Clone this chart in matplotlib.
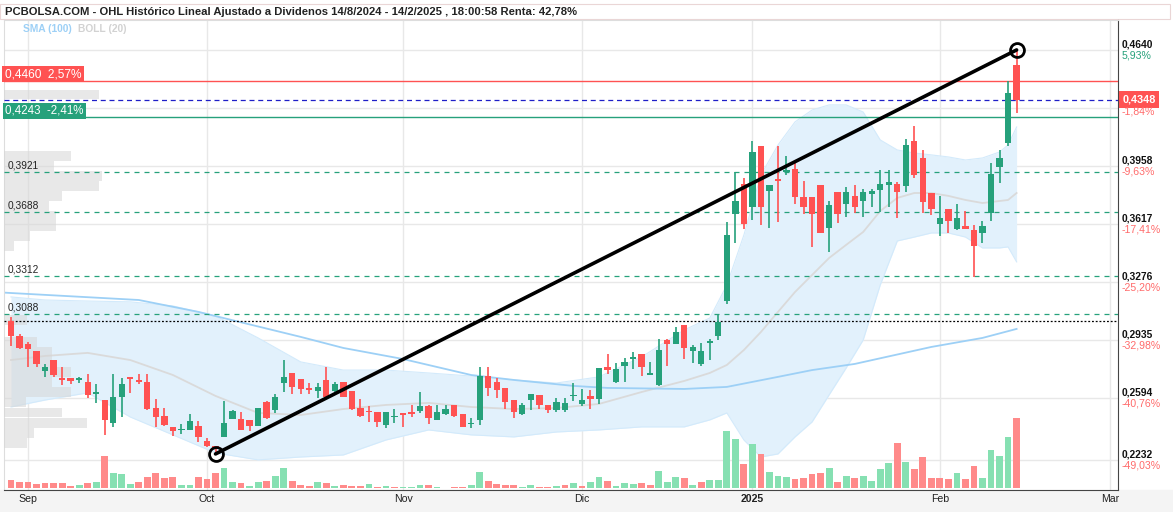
import numpy as np
import matplotlib.pyplot as plt
import matplotlib.transforms as mtransforms

plt.rcParams['font.family'] = ['Liberation Sans', 'DejaVu Sans']

# sesiones bursatiles: 0 = 2/9/2024 ... 116 = 14/2/2025
sesion = np.arange(-2, 117)

apertura = [
    .3047, .2958, .2913, .2870, .2754, .2817, .2705, .2709, .2701, .2688,
    .2620, .2582, .2449, .2600, .2717, .2694, .2688, .2535, .2488, .2423,
    .2404, .2406, .2429, .2339, .2312, .2364, .2468, .2470, .2464, .2429,
    .2570, .2523, .2684, .2743, .2705, .2652, .2637, .2700, .2637, .2686,
    .2635, .2535, .2513, .2511, .2433, .2480, .2504, .2511, .2519, .2547,
    .2464, .2502, .2553, .2500, .2440, .2464, .2723, .2688, .2651, .2582,
    .2500, .2582, .2611, .2551, .2523, .2523, .2604, .2560, .2605, .2588,
    .2774, .2688, .2782, .2823, .2852, .2731, .2670, .2933, .2913, .3023,
    .2872, .2794, .2915, .2958, .3164, .3676, .3852, .3719, .4076, .3813,
    .3876, .3921, .3940, .3774, .3776, .3846, .3595, .3807, .3735, .3782,
    .3752, .3795, .3817, .3848, .3852, .3842, .4105, .4005, .3797, .3619,
    .3705, .3587, .3605, .3582, .3566, .3683, .3954, .4095, .4552]
maximo = [
    .3068, .2970, .2921, .2870, .2794, .2817, .2774, .2713, .2719, .2735,
    .2676, .2582, .2735, .2709, .2719, .2733, .2737, .2586, .2537, .2425,
    .2439, .2500, .2458, .2361, .2314, .2576, .2525, .2510, .2464, .2535,
    .2576, .2617, .2817, .2743, .2705, .2684, .2684, .2778, .2688, .2686,
    .2635, .2586, .2545, .2513, .2513, .2529, .2507, .2551, .2627, .2553,
    .2553, .2551, .2553, .2500, .2474, .2778, .2776, .2709, .2651, .2582,
    .2563, .2617, .2611, .2553, .2594, .2592, .2680, .2645, .2641, .2770,
    .2852, .2798, .2827, .2864, .2852, .2804, .2939, .2939, .3010, .3023,
    .2905, .2915, .2939, .3082, .3630, .3924, .3886, .4107, .4076, .3846,
    .4076, .4017, .3983, .3870, .3776, .3846, .3752, .3807, .3833, .3846,
    .3823, .3823, .3934, .3934, .3866, .4117, .4193, .4052, .3797, .3782,
    .3705, .3733, .3693, .3611, .3635, .3974, .4052, .4460, .4640]
minimo = [
    .2901, .2880, .2774, .2774, .2719, .2719, .2672, .2678, .2683, .2594,
    .2563, .2378, .2422, .2480, .2621, .2676, .2525, .2422, .2427, .2370,
    .2380, .2406, .2333, .2308, .2265, .2364, .2468, .2406, .2402, .2429,
    .2472, .2508, .2631, .2616, .2617, .2617, .2596, .2602, .2627, .2598,
    .2525, .2480, .2454, .2425, .2420, .2445, .2422, .2484, .2508, .2439,
    .2464, .2496, .2484, .2422, .2419, .2437, .2608, .2592, .2529, .2479,
    .2494, .2523, .2531, .2508, .2510, .2511, .2578, .2549, .2531, .2558,
    .2735, .2684, .2690, .2764, .2723, .2731, .2664, .2782, .2913, .2822,
    .2802, .2784, .2817, .2935, .3145, .3503, .3590, .3641, .3611, .3592,
    .3627, .3905, .3733, .3676, .3484, .3562, .3454, .3625, .3656, .3680,
    .3660, .3719, .3686, .3719, .3650, .3807, .3889, .3680, .3670, .3548,
    .3562, .3582, .3589, .3307, .3507, .3636, .3856, .4077, .4268]
cierre = [
    .2960, .2890, .2882, .2795, .2776, .2731, .2701, .2695, .2705, .2611,
    .2622, .2466, .2600, .2676, .2705, .2690, .2529, .2484, .2437, .2402,
    .2406, .2458, .2366, .2314, .2292, .2447, .2517, .2406, .2429, .2535,
    .2476, .2600, .2717, .2658, .2648, .2642, .2660, .2602, .2676, .2602,
    .2529, .2490, .2510, .2451, .2511, .2482, .2496, .2498, .2545, .2478,
    .2511, .2529, .2488, .2425, .2442, .2723, .2655, .2641, .2572, .2513,
    .2551, .2617, .2553, .2523, .2570, .2564, .2608, .2582, .2590, .2770,
    .2758, .2764, .2806, .2833, .2778, .2741, .2876, .2913, .2982, .2890,
    .2892, .2870, .2929, .3043, .3552, .3752, .3617, .4040, .3719, .3846,
    .3872, .3934, .3777, .3719, .3676, .3562, .3729, .3674, .3807, .3719,
    .3805, .3811, .3852, .3864, .3807, .4081, .3907, .3748, .3704, .3650,
    .3636, .3650, .3589, .3489, .3605, .3911, .4007, .4389, .4348]
volumen = [
    8.3, 6.0, 6.0, 4.3, 5.0, 5.0, 5.0, 2.3, 3.3, 5.3,
    6.3, 32.3, 15.0, 14.3, 4.3, 6.3, 11.3, 15.0, 10.3, 11.5,
    3.3, 3.3, 11.3, 9.3, 15.0, 20.3, 6.3, 5.0, 2.3, 6.0,
    7.3, 12.3, 20.3, 7.0, 3.3, 2.3, 6.0, 5.0, 2.6, 3.0,
    2.0, 2.7, 4.7, 1.7, 2.7, 1.7, 1.7, 1.7, 3.3, 3.7,
    1.7, 0.5, 1.7, 1.7, 3.3, 16.3, 7.7, 4.3, 3.0, 3.5,
    1.3, 3.0, 1.3, 1.3, 2.3, 3.0, 5.3, 2.3, 6.3, 11.0,
    7.3, 2.3, 5.3, 4.7, 5.3, 3.3, 17.0, 6.3, 11.0, 10.0,
    3.0, 6.7, 8.3, 8.3, 57.0, 49.3, 24.3, 44.3, 34.3, 16.3,
    12.3, 11.3, 9.0, 10.3, 14.3, 15.3, 20.3, 6.7, 12.3, 10.3,
    12.7, 7.3, 19.3, 25.3, 45.3, 26.3, 19.3, 31.3, 10.3, 10.3,
    9.0, 15.3, 9.0, 22.3, 10.3, 38.3, 32.3, 51.3, 70.3]

# Bollinger (20) y SMA (100)
boll_ses = [-2, 2, 7, 12, 17, 22, 27, 32, 37, 42, 47, 52, 57, 62, 67, 72, 77, 80,
            82, 84, 86, 88, 90, 92, 94, 96, 98, 100, 102, 104, 106, 108, 110, 112,
            114, 115, 116]
boll_sup = [.3188, .3170, .3164, .3159, .3135, .3076, .2947, .2806, .2758, .2758,
            .2741, .2723, .2700, .2682, .2718, .2835, .2994, .3064, .3258, .3552,
            .3905, .4081, .4217, .4287, .4317, .4317, .4275, .4111, .4052, .4034,
            .4023, .4011, .3993, .4005, .4040, .4081, .4187]
boll_med = [.2817, .2841, .2859, .2817, .2729, .2606, .2506, .2494, .2529, .2553,
            .2565, .2541, .2529, .2535, .2559, .2629, .2694, .2741, .2788, .2876,
            .2982, .3100, .3217, .3317, .3417, .3494, .3570, .3693, .3770, .3799,
            .3799, .3782, .3758, .3740, .3752, .3758, .3799]
boll_inf = [.2541, .2582, .2624, .2482, .2377, .2271, .2230, .2247, .2259, .2347,
            .2406, .2377, .2365, .2394, .2406, .2424, .2424, .2465, .2506, .2347,
            .2247, .2265, .2365, .2453, .2612, .2770, .2935, .3258, .3517, .3540,
            .3564, .3564, .3540, .3476, .3476, .3482, .3394]
sma_ses = [-3, -2, 13, 20, 32, 37, 44, 48, 52, 57, 64, 68, 77, 82, 88, 92, 97, 106, 112, 116]
sma100 = [.3214, .3211, .3170, .3100, .2953, .2888, .2823, .2776, .2729, .2700,
          .2665, .2653, .2647, .2659, .2718, .2758, .2794, .2894, .2947, .3000]

# perfil de volumen por precio
vp_precio = [.4378, .4017, .3958, .3899, .3840, .3781, .3722, .3663, .3604, .3546, .3487,
             .3052, .2923, .2864, .2805, .2747, .2688, .2629, .2570, .2508, .2447, .2388, .2330]
vp_vol = [95, 67, 50, 98, 95, 58, 45, 52, 52, 26, 10,
          23, 33, 48, 48, 67, 48, 67, 22, 58, 83, 30, 23]

# niveles
res_roja, sop_verde, precio_actual, precio_ini = 0.4460, 0.4243, 0.4348, 0.3045
niveles = [0.3921, 0.3688, 0.3312, 0.3088]
eje_precios = [0.4640, 0.3958, 0.3617, 0.3276, 0.2935, 0.2594, 0.2232]
eje_pct = ['5,93%', '-9,63%', '-17,41%', '-25,20%', '-32,98%', '-40,76%', '-49,03%']
grid_precios = [0.4640, 0.4299, 0.3958, 0.3617, 0.3276, 0.2935, 0.2594, 0.2232]
meses = ['Sep', 'Oct', 'Nov', 'Dic', '2025', 'Feb', 'Mar']
meses_ses = [0, 21, 44, 65, 85, 107, 127]
tendencia = (22, 116)  # minimo de octubre -> maximo de febrero

VERDE, ROJO = '#26a17b', '#ff5252'
VOL_V, VOL_R = '#86e0b2', '#ff8a8a'

fig = plt.figure(figsize=(11.73, 5.12), dpi=100)
ax = fig.add_axes([4 / 1173, 22 / 512, 1114 / 1173, 470 / 512])
ymin, ymax = 0.2053, 0.4816
xmin, xmax = -2.82, 127.9
ax.set_xlim(xmin, xmax)
ax.set_ylim(ymin, ymax)
px = (ymax - ymin) / 470

for p in grid_precios:
    ax.axhline(p, color='#e8e8e8', lw=1, zorder=0)
for m in meses_ses:
    ax.axvline(m, color='#e8e8e8', lw=1, zorder=0)

# bandas
ax.fill_between(boll_ses, boll_inf, boll_sup, color='#e2f1fc', lw=0, zorder=1)
ax.plot(boll_ses, boll_sup, color='#d3eafb', lw=0.8, zorder=1)
ax.plot(boll_ses, boll_inf, color='#d3eafb', lw=0.8, zorder=1)
ax.plot(boll_ses, boll_med, color='#dadada', lw=1.3, zorder=2)
ax.plot(sma_ses, sma100, color='#9dd0f6', lw=1.3, zorder=2)

# perfil de volumen
ax.barh(vp_precio, np.array(vp_vol) / 8.52, left=xmin, height=0.0056,
        color='#d6d6d6', alpha=0.55, lw=0, zorder=3)

o, h, l, c = map(np.array, (apertura, maximo, minimo, cierre))
sube = c >= o
col = np.where(sube, VERDE, ROJO)

# volumen abajo
vsube = np.r_[sube[0], c[1:] >= c[:-1]]
ax.bar(sesion, np.array(volumen) * px, bottom=ymin + 1.7 * px, width=0.8,
       color=np.where(vsube, VOL_V, VOL_R), lw=0, zorder=2)

# lineas horizontales
ax.axhline(res_roja, color=ROJO, lw=1, zorder=3)
ax.axhline(sop_verde, color=VERDE, lw=1, zorder=3)
ax.axhline(precio_actual, color='#1f1fc8', lw=0.9, ls=(0, (4, 3)), zorder=3)
for p in niveles:
    ax.axhline(p, color=VERDE, lw=0.9, ls=(0, (4, 4)), zorder=3)
    ax.text(xmin + 0.4, p + 1.5 * px, f'{p:.4f}'.replace('.', ','), fontsize=7.3,
            color='#222222', va='bottom', ha='left', zorder=6)
ax.axhline(precio_ini, color='black', lw=0.9, ls=(0, (1.5, 1.5)), zorder=3)

# velas
ax.vlines(sesion, l, h, colors=col, lw=1.2, zorder=4)
ax.bar(sesion, np.maximum(np.abs(c - o), 1.3 * px), bottom=np.minimum(o, c), width=0.74,
       color=col, lw=0, zorder=5)

# linea de tendencia
i0, i1 = tendencia
x_t = [i0, i1]
y_t = [minimo[i0 + 2], maximo[i1 + 2]]
ax.plot(x_t, y_t, color='black', lw=2.6, zorder=7, solid_capstyle='round')
ax.plot(x_t, y_t, ls='none', marker='o', ms=10, mfc='none', mec='black', mew=2, zorder=8)

# cajas de la izquierda
ax.text(xmin + 0.1, res_roja + 0.5 * px, '0,4460  2,57%', color='white', fontsize=8.6,
        va='bottom', ha='left', zorder=9,
        bbox=dict(boxstyle='square,pad=0.2', fc=ROJO, ec='none'))
ax.text(xmin + 0.1, sop_verde + 0.5 * px, '0,4243  -2,41%', color='white', fontsize=8.3,
        va='bottom', ha='left', zorder=9,
        bbox=dict(boxstyle='square,pad=0.2', fc=VERDE, ec='none'))

# eje derecho
tr = mtransforms.blended_transform_factory(ax.transAxes, ax.transData)
for p, pct in zip(eje_precios, eje_pct):
    ax.text(1.003, p + 0.5 * px, f'{p:.4f}'.replace('.', ','), transform=tr, fontsize=7.4,
            weight='bold', color='#111111', va='bottom', ha='left', clip_on=False)
    ax.text(1.003, p - 0.5 * px, pct, transform=tr, fontsize=7.6,
            color=VERDE if not pct.startswith('-') else '#ff6b6b', va='top', ha='left', clip_on=False)
ax.text(1.004, precio_actual, '0,4348', transform=tr, fontsize=7.8,
        weight='bold', color='white', va='center', ha='left', clip_on=False,
        bbox=dict(boxstyle='square,pad=0.3', fc=ROJO, ec='none'))
ax.text(1.003, precio_actual - 6.5 * px, '-1,84%', transform=tr, fontsize=7.6,
        color='#ff6b6b', va='top', ha='left', clip_on=False)

# eje x
ax.set_xticks(meses_ses)
ax.set_xticklabels(meses, fontsize=7.6, color='#222222')
ax.get_xticklabels()[4].set_weight('bold')
ax.tick_params(axis='x', length=0, pad=3)
ax.set_yticks([])
for s in ['top', 'left']:
    ax.spines[s].set_color('#dddddd')
ax.spines['right'].set_color('#444444')
ax.spines['bottom'].set_color('#444444')
fig.patches.append(plt.Rectangle((0, 0), 1, 22 / 512, transform=fig.transFigure,
                                 color='#f4f4f4', zorder=-1))
fig.patches.append(plt.Rectangle((0, 1 - 19 / 512), 1170 / 1173, 15 / 512,
                                 transform=fig.transFigure, fc='white', ec='#ead6d6',
                                 lw=0.8, zorder=-1))

fig.text(5 / 1173, 1 - 12 / 512, 'PCBOLSA.COM - OHL Histórico Lineal Ajustado a Dividenos '
         '14/8/2024 - 14/2/2025 , 18:00:58 Renta: 42,78%', fontsize=8.1,
         weight='bold', color='#222222', va='center', ha='left')
fig.text(23 / 1173, 1 - 29 / 512, 'SMA (100)', fontsize=7.4, color='#9dd0f6', weight='bold',
         va='center', ha='left')
fig.text(78 / 1173, 1 - 29 / 512, 'BOLL (20)', fontsize=7.4, color='#d2d2d2', weight='bold',
         va='center', ha='left')

fig.savefig('out.png', dpi=100)
